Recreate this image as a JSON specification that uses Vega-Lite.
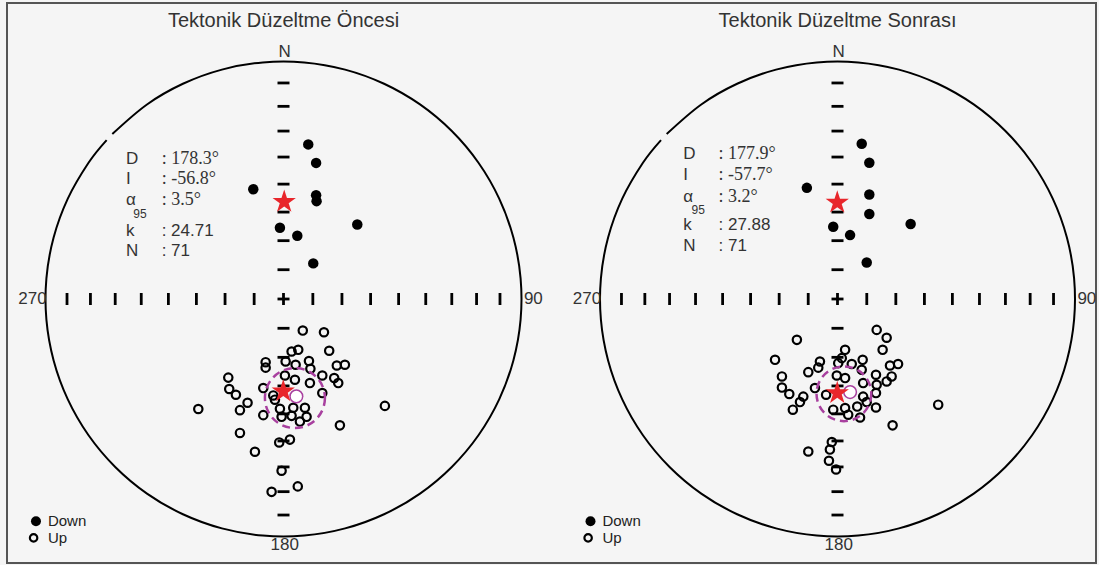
{
"$schema": "https://vega.github.io/schema/vega-lite/v6.json",
"width": 1089, "height": 560,
"autosize": {"type": "none"},
"padding": {"left": 7, "top": 3, "right": 3, "bottom": 2},
"background": "#f5f5f5",
"config": {"view": {"stroke": "#555555", "strokeWidth": 2, "fill": "#f5f5f5"}, "axis": {"disable": true}, "text": {"font": "Liberation Sans", "color": "#333333"}},
"datasets": {
"circle": [
{"i":0,"x":-0.7193,"y":0.6947},{"i":1,"x":-0.5736,"y":0.8192},{"i":2,"x":-0.4226,"y":0.9063},{"i":3,"x":-0.2588,"y":0.9659},{"i":4,"x":-0.0872,"y":0.9962},
{"i":5,"x":0.0872,"y":0.9962},{"i":6,"x":0.2588,"y":0.9659},{"i":7,"x":0.4226,"y":0.9063},{"i":8,"x":0.5736,"y":0.8192},{"i":9,"x":0.7071,"y":0.7071},
{"i":10,"x":0.8192,"y":0.5736},{"i":11,"x":0.9063,"y":0.4226},{"i":12,"x":0.9659,"y":0.2588},{"i":13,"x":0.9962,"y":0.0872},{"i":14,"x":0.9962,"y":-0.0872},
{"i":15,"x":0.9659,"y":-0.2588},{"i":16,"x":0.9063,"y":-0.4226},{"i":17,"x":0.8192,"y":-0.5736},{"i":18,"x":0.7071,"y":-0.7071},{"i":19,"x":0.5736,"y":-0.8192},
{"i":20,"x":0.4226,"y":-0.9063},{"i":21,"x":0.2588,"y":-0.9659},{"i":22,"x":0.0872,"y":-0.9962},{"i":23,"x":-0.0872,"y":-0.9962},{"i":24,"x":-0.2588,"y":-0.9659},
{"i":25,"x":-0.4226,"y":-0.9063},{"i":26,"x":-0.5736,"y":-0.8192},{"i":27,"x":-0.7071,"y":-0.7071},{"i":28,"x":-0.8192,"y":-0.5736},{"i":29,"x":-0.9063,"y":-0.4226},
{"i":30,"x":-0.9659,"y":-0.2588},{"i":31,"x":-0.9962,"y":-0.0872},{"i":32,"x":-0.9962,"y":0.0872},{"i":33,"x":-0.9659,"y":0.2588},{"i":34,"x":-0.9063,"y":0.4226},
{"i":35,"x":-0.8192,"y":0.5736},{"i":36,"x":-0.7431,"y":0.6691}
],
"hticks": [{"x":-0.9096,"y":0},{"x":-0.8112,"y":0},{"x":-0.7071,"y":0},{"x":-0.5977,"y":0},{"x":-0.4837,"y":0},{"x":-0.366,"y":0},{"x":-0.2456,"y":0},{"x":-0.1233,"y":0},{"x":0,"y":0},{"x":0.1233,"y":0},{"x":0.2456,"y":0},{"x":0.366,"y":0},{"x":0.4837,"y":0},{"x":0.5977,"y":0},{"x":0.7071,"y":0},{"x":0.8112,"y":0},{"x":0.9096,"y":0}],
"vticks": [{"x":0,"y":-0.9096},{"x":0,"y":-0.8112},{"x":0,"y":-0.7071},{"x":0,"y":-0.5977},{"x":0,"y":-0.4837},{"x":0,"y":-0.366},{"x":0,"y":-0.2456},{"x":0,"y":-0.1233},{"x":0,"y":0},{"x":0,"y":0.1233},{"x":0,"y":0.2456},{"x":0,"y":0.366},{"x":0,"y":0.4837},{"x":0,"y":0.5977},{"x":0,"y":0.7071},{"x":0,"y":0.8112},{"x":0,"y":0.9096}],
"frame": [{"t":"N","x":0.005,"y":1.04},{"t":"180","x":0.005,"y":-1.035},{"t":"270","x":-0.995,"y":0},{"t":"90","x":1.01,"y":0}],
"titles": [{"panel":"A","t":"Tektonik Düzeltme Öncesi","x":0,"y":1.172},{"panel":"B","t":"Tektonik Düzeltme Sonrası","x":0,"y":1.172}],
"ptsA": [
{"x":0.104,"y":0.651,"pol":"Down"},{"x":0.137,"y":0.573,"pol":"Down"},{"x":-0.127,"y":0.462,"pol":"Down"},{"x":0.137,"y":0.437,"pol":"Down"},{"x":0.139,"y":0.412,"pol":"Down"},
{"x":0.31,"y":0.314,"pol":"Down"},{"x":-0.015,"y":0.3,"pol":"Down"},{"x":0.058,"y":0.266,"pol":"Down"},{"x":0.125,"y":0.15,"pol":"Down"},
{"x":0.081,"y":-0.133,"pol":"Up"},{"x":0.17,"y":-0.14,"pol":"Up"},{"x":0.192,"y":-0.218,"pol":"Up"},{"x":0.034,"y":-0.221,"pol":"Up"},{"x":0.062,"y":-0.214,"pol":"Up"},
{"x":-0.075,"y":-0.266,"pol":"Up"},{"x":-0.075,"y":-0.289,"pol":"Up"},{"x":0.009,"y":-0.263,"pol":"Up"},{"x":0.051,"y":-0.277,"pol":"Up"},{"x":0.107,"y":-0.261,"pol":"Up"},
{"x":0.113,"y":-0.294,"pol":"Up"},{"x":0.224,"y":-0.28,"pol":"Up"},{"x":0.258,"y":-0.277,"pol":"Up"},{"x":-0.232,"y":-0.331,"pol":"Up"},{"x":0.006,"y":-0.322,"pol":"Up"},
{"x":0.048,"y":-0.34,"pol":"Up"},{"x":0.111,"y":-0.354,"pol":"Up"},{"x":0.163,"y":-0.322,"pol":"Up"},{"x":0.213,"y":-0.333,"pol":"Up"},{"x":0.23,"y":-0.354,"pol":"Up"},
{"x":-0.228,"y":-0.379,"pol":"Up"},{"x":-0.2,"y":-0.403,"pol":"Up"},{"x":-0.085,"y":-0.375,"pol":"Up"},{"x":0.163,"y":-0.396,"pol":"Up"},{"x":-0.043,"y":-0.406,"pol":"Up"},
{"x":-0.036,"y":-0.424,"pol":"Up"},{"x":-0.151,"y":-0.437,"pol":"Up"},{"x":-0.183,"y":-0.468,"pol":"Up"},{"x":-0.358,"y":-0.463,"pol":"Up"},{"x":-0.085,"y":-0.489,"pol":"Up"},
{"x":-0.015,"y":-0.462,"pol":"Up"},{"x":-0.008,"y":-0.496,"pol":"Up"},{"x":0.041,"y":-0.458,"pol":"Up"},{"x":0.034,"y":-0.492,"pol":"Up"},{"x":0.09,"y":-0.458,"pol":"Up"},
{"x":0.097,"y":-0.496,"pol":"Up"},{"x":0.069,"y":-0.516,"pol":"Up"},{"x":0.426,"y":-0.45,"pol":"Up"},{"x":0.237,"y":-0.532,"pol":"Up"},{"x":-0.183,"y":-0.564,"pol":"Up"},
{"x":-0.018,"y":-0.604,"pol":"Up"},{"x":0.027,"y":-0.592,"pol":"Up"},{"x":-0.12,"y":-0.643,"pol":"Up"},{"x":-0.008,"y":-0.723,"pol":"Up"},{"x":-0.05,"y":-0.812,"pol":"Up"},
{"x":0.06,"y":-0.789,"pol":"Up"}
],
"ptsB": [
{"x":0.102,"y":0.654,"pol":"Down"},{"x":0.134,"y":0.574,"pol":"Down"},{"x":-0.129,"y":0.468,"pol":"Down"},{"x":0.134,"y":0.44,"pol":"Down"},{"x":0.134,"y":0.358,"pol":"Down"},
{"x":0.308,"y":0.316,"pol":"Down"},{"x":-0.018,"y":0.304,"pol":"Down"},{"x":0.053,"y":0.269,"pol":"Down"},{"x":0.123,"y":0.154,"pol":"Down"},
{"x":0.165,"y":-0.13,"pol":"Up"},{"x":0.207,"y":-0.163,"pol":"Up"},{"x":-0.171,"y":-0.172,"pol":"Up"},{"x":0.19,"y":-0.214,"pol":"Up"},{"x":-0.263,"y":-0.256,"pol":"Up"},
{"x":0.032,"y":-0.214,"pol":"Up"},{"x":0.018,"y":-0.249,"pol":"Up"},{"x":-0.074,"y":-0.263,"pol":"Up"},{"x":-0.081,"y":-0.289,"pol":"Up"},{"x":0.003,"y":-0.27,"pol":"Up"},
{"x":0.06,"y":-0.274,"pol":"Up"},{"x":0.106,"y":-0.256,"pol":"Up"},{"x":0.221,"y":-0.28,"pol":"Up"},{"x":0.255,"y":-0.274,"pol":"Up"},{"x":-0.123,"y":-0.308,"pol":"Up"},
{"x":-0.234,"y":-0.326,"pol":"Up"},{"x":-0.003,"y":-0.322,"pol":"Up"},{"x":0.102,"y":-0.298,"pol":"Up"},{"x":0.162,"y":-0.319,"pol":"Up"},{"x":0.228,"y":-0.326,"pol":"Up"},
{"x":0.207,"y":-0.347,"pol":"Up"},{"x":0.032,"y":-0.333,"pol":"Up"},{"x":0.108,"y":-0.354,"pol":"Up"},{"x":-0.234,"y":-0.373,"pol":"Up"},{"x":-0.203,"y":-0.4,"pol":"Up"},
{"x":-0.095,"y":-0.375,"pol":"Up"},{"x":0.165,"y":-0.361,"pol":"Up"},{"x":0.162,"y":-0.396,"pol":"Up"},{"x":-0.144,"y":-0.411,"pol":"Up"},{"x":-0.158,"y":-0.434,"pol":"Up"},
{"x":-0.188,"y":-0.466,"pol":"Up"},{"x":-0.048,"y":-0.403,"pol":"Up"},{"x":0.108,"y":-0.411,"pol":"Up"},{"x":-0.018,"y":-0.466,"pol":"Up"},{"x":0.032,"y":-0.459,"pol":"Up"},
{"x":0.045,"y":-0.487,"pol":"Up"},{"x":0.083,"y":-0.453,"pol":"Up"},{"x":0.123,"y":-0.434,"pol":"Up"},{"x":0.162,"y":-0.457,"pol":"Up"},{"x":0.095,"y":-0.499,"pol":"Up"},
{"x":0.424,"y":-0.445,"pol":"Up"},{"x":0.232,"y":-0.532,"pol":"Up"},{"x":-0.024,"y":-0.602,"pol":"Up"},{"x":-0.032,"y":-0.634,"pol":"Up"},{"x":-0.123,"y":-0.642,"pol":"Up"},
{"x":-0.036,"y":-0.681,"pol":"Up"},{"x":-0.006,"y":-0.718,"pol":"Up"}
],
"meanA": [{"kind":"star","x":0.003,"y":0.409},{"kind":"star","x":-0.001,"y":-0.389},{"kind":"upmean","x":0.054,"y":-0.41},{"kind":"a95","x":0.048,"y":-0.417}],
"meanB": [{"kind":"star","x":-0.001,"y":0.406},{"kind":"star","x":-0.001,"y":-0.396},{"kind":"upmean","x":0.053,"y":-0.392},{"kind":"a95","x":0.027,"y":-0.399}],
"statsA": [{"label":"D","value":": 178.3°","lx":-0.662,"vx":-0.512,"y":0.591},{"label":"I","value":": -56.8°","lx":-0.662,"vx":-0.512,"y":0.504},{"label":"α","value":": 3.5°","lx":-0.662,"vx":-0.512,"y":0.416},{"label":"k","value":": 24.71","lx":-0.662,"vx":-0.512,"y":0.286},{"label":"N","value":": 71","lx":-0.662,"vx":-0.512,"y":0.202}],
"statsB": [{"label":"D","value":": 177.9°","lx":-0.65,"vx":-0.501,"y":0.612},{"label":"I","value":": -57.7°","lx":-0.65,"vx":-0.501,"y":0.524},{"label":"α","value":": 3.2°","lx":-0.65,"vx":-0.501,"y":0.43},{"label":"k","value":": 27.88","lx":-0.65,"vx":-0.501,"y":0.311},{"label":"N","value":": 71","lx":-0.65,"vx":-0.501,"y":0.224}],
"legend": [{"pol":"Down","x":-1.04,"tx":-0.99,"y":-0.936},{"pol":"Up","x":-1.05,"tx":-0.99,"y":-1.006}]
},
"layer": [
{
"encoding": {
"x": {"field": "x", "type": "quantitative", "axis": null, "scale": {"domain": [-1, 1], "range": [38.5, 514.5], "zero": false, "nice": false}},
"y": {"field": "y", "type": "quantitative", "axis": null, "scale": {"domain": [-1, 1], "range": [533.5, 58.5], "zero": false, "nice": false}}
},
"layer": [
{"data": {"name": "circle"}, "mark": {"type": "line", "color": "black", "strokeWidth": 2, "interpolate": "cardinal"}, "encoding": {"order": {"field": "i", "type": "quantitative"}}},
{"data": {"name": "hticks"}, "mark": {"type": "tick", "orient": "vertical", "color": "black", "size": 12, "thickness": 2.8, "opacity": 1}},
{"data": {"name": "vticks"}, "mark": {"type": "tick", "orient": "horizontal", "color": "black", "size": 12, "thickness": 2.8, "opacity": 1}},
{"data": {"name": "ptsA"}, "transform": [{"filter": "datum.pol == 'Up'"}], "mark": {"type": "point", "shape": "circle", "filled": false, "color": "black", "size": 70, "strokeWidth": 2.2, "opacity": 1}},
{"data": {"name": "ptsA"}, "transform": [{"filter": "datum.pol == 'Down'"}], "mark": {"type": "point", "shape": "circle", "filled": true, "color": "black", "size": 110, "opacity": 1}},
{"data": {"name": "meanA"}, "transform": [{"filter": "datum.kind == 'a95'"}], "mark": {"type": "point", "shape": "circle", "filled": false, "color": "#a8409f", "size": 3600, "strokeWidth": 2.5, "strokeDash": [8, 5], "opacity": 1}},
{"data": {"name": "meanA"}, "transform": [{"filter": "datum.kind == 'upmean'"}], "mark": {"type": "point", "shape": "circle", "filled": true, "fill": "white", "stroke": "#a8409f", "size": 160, "strokeWidth": 1.5, "opacity": 1}},
{"data": {"name": "meanA"}, "transform": [{"filter": "datum.kind == 'star'"}], "mark": {"type": "point", "shape": "M0,-1L0.2245,-0.309L0.951,-0.309L0.363,0.118L0.588,0.809L0,0.382L-0.588,0.809L-0.363,0.118L-0.951,-0.309L-0.2245,-0.309Z", "filled": true, "color": "#e8262b", "size": 600, "opacity": 1}},
{"data": {"name": "titles"}, "transform": [{"filter": "datum.panel == 'A'"}], "mark": {"type": "text", "fontSize": 20}, "encoding": {"text": {"field": "t"}}},
{"data": {"name": "frame"}, "transform": [{"filter": "datum.t == 'N' || datum.t == '180'"}], "mark": {"type": "text", "fontSize": 17}, "encoding": {"text": {"field": "t"}}},
{"data": {"name": "frame"}, "transform": [{"filter": "datum.t == '270'"}], "mark": {"type": "text", "fontSize": 17, "align": "right"}, "encoding": {"text": {"field": "t"}}},
{"data": {"name": "frame"}, "transform": [{"filter": "datum.t == '90'"}], "mark": {"type": "text", "fontSize": 17, "align": "left"}, "encoding": {"text": {"field": "t"}}},
{"data": {"name": "statsA"}, "mark": {"type": "text", "align": "left", "fontSize": 17}, "encoding": {"x": {"field": "lx", "type": "quantitative"}, "text": {"field": "label"}}},
{"data": {"name": "statsA"}, "transform": [{"filter": "indexof(['D','I','α'], datum.label) >= 0"}], "mark": {"type": "text", "align": "left", "font": "Liberation Serif", "fontSize": 18}, "encoding": {"x": {"field": "vx", "type": "quantitative"}, "text": {"field": "value"}}},
{"data": {"name": "statsA"}, "transform": [{"filter": "indexof(['D','I','α'], datum.label) < 0"}], "mark": {"type": "text", "align": "left", "fontSize": 17}, "encoding": {"x": {"field": "vx", "type": "quantitative"}, "text": {"field": "value"}}},
{"data": {"name": "statsA"}, "transform": [{"filter": "datum.label == 'α'"}], "mark": {"type": "text", "align": "center", "fontSize": 12, "dx": 14, "dy": 14, "text": "95"}, "encoding": {"x": {"field": "lx", "type": "quantitative"}}},
{"data": {"name": "legend"}, "transform": [{"filter": "datum.pol == 'Down'"}], "mark": {"type": "point", "shape": "circle", "filled": true, "color": "black", "size": 100, "opacity": 1}},
{"data": {"name": "legend"}, "transform": [{"filter": "datum.pol == 'Up'"}], "mark": {"type": "point", "shape": "circle", "filled": false, "color": "black", "size": 55, "strokeWidth": 2.2, "opacity": 1}},
{"data": {"name": "legend"}, "mark": {"type": "text", "align": "left", "fontSize": 15, "color": "#222222"}, "encoding": {"x": {"field": "tx", "type": "quantitative"}, "text": {"field": "pol"}}}
]
},
{
"encoding": {
"x": {"field": "x", "type": "quantitative", "axis": null, "scale": {"domain": [-1, 1], "range": [593, 1068], "zero": false, "nice": false}},
"y": {"field": "y", "type": "quantitative", "axis": null, "scale": {"domain": [-1, 1], "range": [533.5, 58.5], "zero": false, "nice": false}}
},
"layer": [
{"data": {"name": "circle"}, "mark": {"type": "line", "color": "black", "strokeWidth": 2, "interpolate": "cardinal"}, "encoding": {"order": {"field": "i", "type": "quantitative"}}},
{"data": {"name": "hticks"}, "mark": {"type": "tick", "orient": "vertical", "color": "black", "size": 12, "thickness": 2.8, "opacity": 1}},
{"data": {"name": "vticks"}, "mark": {"type": "tick", "orient": "horizontal", "color": "black", "size": 12, "thickness": 2.8, "opacity": 1}},
{"data": {"name": "ptsB"}, "transform": [{"filter": "datum.pol == 'Up'"}], "mark": {"type": "point", "shape": "circle", "filled": false, "color": "black", "size": 70, "strokeWidth": 2.2, "opacity": 1}},
{"data": {"name": "ptsB"}, "transform": [{"filter": "datum.pol == 'Down'"}], "mark": {"type": "point", "shape": "circle", "filled": true, "color": "black", "size": 110, "opacity": 1}},
{"data": {"name": "meanB"}, "transform": [{"filter": "datum.kind == 'a95'"}], "mark": {"type": "point", "shape": "circle", "filled": false, "color": "#a8409f", "size": 3000, "strokeWidth": 2.5, "strokeDash": [8, 5], "opacity": 1}},
{"data": {"name": "meanB"}, "transform": [{"filter": "datum.kind == 'upmean'"}], "mark": {"type": "point", "shape": "circle", "filled": true, "fill": "white", "stroke": "#a8409f", "size": 160, "strokeWidth": 1.5, "opacity": 1}},
{"data": {"name": "meanB"}, "transform": [{"filter": "datum.kind == 'star'"}], "mark": {"type": "point", "shape": "M0,-1L0.2245,-0.309L0.951,-0.309L0.363,0.118L0.588,0.809L0,0.382L-0.588,0.809L-0.363,0.118L-0.951,-0.309L-0.2245,-0.309Z", "filled": true, "color": "#e8262b", "size": 600, "opacity": 1}},
{"data": {"name": "titles"}, "transform": [{"filter": "datum.panel == 'B'"}], "mark": {"type": "text", "fontSize": 20}, "encoding": {"text": {"field": "t"}}},
{"data": {"name": "frame"}, "transform": [{"filter": "datum.t == 'N' || datum.t == '180'"}], "mark": {"type": "text", "fontSize": 17}, "encoding": {"text": {"field": "t"}}},
{"data": {"name": "frame"}, "transform": [{"filter": "datum.t == '270'"}], "mark": {"type": "text", "fontSize": 17, "align": "right"}, "encoding": {"text": {"field": "t"}}},
{"data": {"name": "frame"}, "transform": [{"filter": "datum.t == '90'"}], "mark": {"type": "text", "fontSize": 17, "align": "left"}, "encoding": {"text": {"field": "t"}}},
{"data": {"name": "statsB"}, "mark": {"type": "text", "align": "left", "fontSize": 17}, "encoding": {"x": {"field": "lx", "type": "quantitative"}, "text": {"field": "label"}}},
{"data": {"name": "statsB"}, "transform": [{"filter": "indexof(['D','I','α'], datum.label) >= 0"}], "mark": {"type": "text", "align": "left", "font": "Liberation Serif", "fontSize": 18}, "encoding": {"x": {"field": "vx", "type": "quantitative"}, "text": {"field": "value"}}},
{"data": {"name": "statsB"}, "transform": [{"filter": "indexof(['D','I','α'], datum.label) < 0"}], "mark": {"type": "text", "align": "left", "fontSize": 17}, "encoding": {"x": {"field": "vx", "type": "quantitative"}, "text": {"field": "value"}}},
{"data": {"name": "statsB"}, "transform": [{"filter": "datum.label == 'α'"}], "mark": {"type": "text", "align": "center", "fontSize": 12, "dx": 15, "dy": 13, "text": "95"}, "encoding": {"x": {"field": "lx", "type": "quantitative"}}},
{"data": {"name": "legend"}, "transform": [{"filter": "datum.pol == 'Down'"}], "mark": {"type": "point", "shape": "circle", "filled": true, "color": "black", "size": 100, "opacity": 1}},
{"data": {"name": "legend"}, "transform": [{"filter": "datum.pol == 'Up'"}], "mark": {"type": "point", "shape": "circle", "filled": false, "color": "black", "size": 55, "strokeWidth": 2.2, "opacity": 1}},
{"data": {"name": "legend"}, "mark": {"type": "text", "align": "left", "fontSize": 15, "color": "#222222"}, "encoding": {"x": {"field": "tx", "type": "quantitative"}, "text": {"field": "pol"}}}
]
}
],
"resolve": {"scale": {"x": "independent", "y": "independent"}}
}
